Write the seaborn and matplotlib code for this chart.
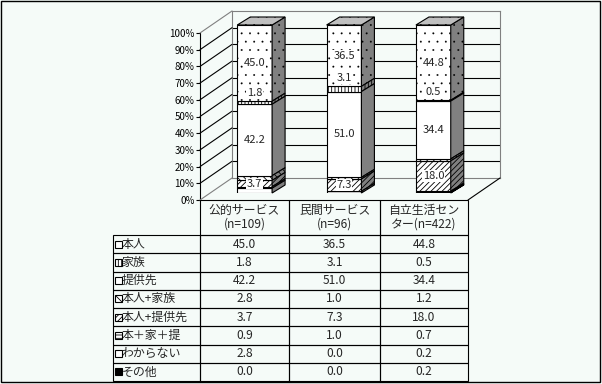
import matplotlib
matplotlib.use("Agg")
import matplotlib.pyplot as plt
from matplotlib.patches import Polygon, Rectangle
from matplotlib.lines import Line2D
from matplotlib.table import Table
from matplotlib.transforms import IdentityTransform
import seaborn as sns

# ---------------- data ----------------
categories = ["公的サービス", "民間サービス", "自立生活センター"]
col_headers = ["公的サービス\n(n=109)", "民間サービス\n(n=96)", "自立生活セン\nター(n=422)"]
series_names = ["本人", "家族", "提供先", "本人+家族", "本人+提供先", "本＋家＋提", "わからない", "その他"]

honnin        = [45.0, 36.5, 44.8]
kazoku        = [1.8, 3.1, 0.5]
teikyo        = [42.2, 51.0, 34.4]
honnin_kazoku = [2.8, 1.0, 1.2]
honnin_teikyo = [3.7, 7.3, 18.0]
hon_ka_tei    = [0.9, 1.0, 0.7]
wakaranai     = [2.8, 0.0, 0.2]
sonota        = [0.0, 0.0, 0.2]

yticks = [0, 10, 20, 30, 40, 50, 60, 70, 80, 90, 100]
ytick_labels = [f"{v}%" for v in yticks]

series_values = [honnin, kazoku, teikyo, honnin_kazoku, honnin_teikyo,
                 hon_ka_tei, wakaranai, sonota]

# ---------------- style ----------------
sns.set_style("white")
plt.rcParams["font.family"] = ["Noto Sans CJK JP", "DejaVu Sans"]
plt.rcParams["hatch.linewidth"] = 0.6
BG = "#F5FBF8"
face_colors = ["white", "white", "white", "white", "white", "white", "white", "black"]
side_colors = ["#808080", "#808080", "#808080", "#808080", "#808080", "#808080", "#808080", "black"]
hatches = ["..", "|||||", None, "\\\\\\\\\\", "//////", "-----", None, None]
hatch_lw = [0.15, 0.6, 0.6, 0.6, 0.6, 0.6, 0.6, 0.6]
labelled = {"本人": "center", "家族": "above", "提供先": "center", "本人+提供先": "center"}

W, H = 602, 384
fig = plt.figure(figsize=(W / 100, H / 100), dpi=100)
fig.patch.set_facecolor(BG)


def fx(px):
    return px / W


def fy(py):
    return 1 - py / H


def box(x0, y0, x1, y1):
    return [fx(x0), fy(y1), (x1 - x0) / W, (y1 - y0) / H]


def set_hlw(p, lw):
    if hasattr(p, "set_hatch_linewidth"):
        p.set_hatch_linewidth(lw)


# back wall, front plane, bar plane, table
ax_back = fig.add_axes(box(232, 11, 500, 178))
ax_front = fig.add_axes(box(200, 33, 468, 200))
ax = fig.add_axes(box(210, 25, 478, 193))
ax_tab = fig.add_axes(box(113, 200, 468, 381))
ax_back.set_zorder(0)
ax_front.set_zorder(1)
ax.set_zorder(5)
ax_tab.set_zorder(6)

# back wall
ax_back.set_facecolor("none")
ax_back.set_xlim(0, 1)
ax_back.set_ylim(0, 100)
ax_back.set_yticks(yticks[1:-1])
ax_back.set_xticks([])
ax_back.tick_params(left=False, labelleft=False)
ax_back.grid(axis="y", color="black", lw=0.8)
for s in ax_back.spines.values():
    s.set_color("#808080")
    s.set_linewidth(0.8)

# front plane axis
ax_front.set_facecolor("none")
ax_front.set_xlim(0, 1)
ax_front.set_ylim(0, 100)
ax_front.set_yticks(yticks)
ax_front.set_yticklabels(ytick_labels)
ax_front.set_xticks([])
ax_front.tick_params(axis="y", length=3, width=0.8, labelsize=7, pad=1, left=True, colors="black")
for k, s in ax_front.spines.items():
    s.set_visible(k == "left")
ax_front.spines["left"].set_color("black")
ax_front.spines["left"].set_linewidth(0.8)

# diagonals between front plane and back wall
for v in yticks:
    p0 = ax_front.transData.transform((0, v))
    p1 = ax_back.transData.transform((0, v))
    col = "#808080" if v in (0, 100) else "black"
    fig.add_artist(Line2D([p0[0], p1[0]], [p0[1], p1[1]], color=col, lw=0.8,
                          transform=IdentityTransform(), zorder=1.5))
p0 = ax_front.transData.transform((1, 0))
p1 = ax_back.transData.transform((1, 0))
fig.add_artist(Line2D([p0[0], p1[0]], [p0[1], p1[1]], color="black", lw=0.8,
                      transform=IdentityTransform(), zorder=1.5))

# ---------------- bars ----------------
n = len(categories)
totals = [sum(s[j] for s in series_values) for j in range(n)]
pct = [[s[j] / totals[j] * 100 for j in range(n)] for s in series_values]

bar_w = 0.39
px_x = (478 - 210) / 3.0
px_y = (193 - 25) / 100.0
ddx, ddy = 13 / px_x, 8 / px_y

bottoms = [0.0] * n
seg = {}
for i in reversed(range(len(series_names))):
    vals = pct[i]
    before = len(ax.patches)
    with plt.rc_context({"hatch.linewidth": hatch_lw[i]}):
        sns.barplot(x=categories, y=vals, bottom=list(bottoms), width=bar_w,
                    color=face_colors[i], saturation=1, edgecolor="black", linewidth=0.8,
                    hatch=hatches[i], errorbar=None, ax=ax)
    for p in ax.patches[before:]:
        set_hlw(p, hatch_lw[i])
    seg[i] = [(bottoms[j], bottoms[j] + vals[j]) for j in range(n)]
    bottoms = [bottoms[j] + vals[j] for j in range(n)]

for i in range(len(series_names)):
    for j in range(n):
        b, t = seg[i][j]
        if t - b <= 0:
            continue
        xr = j + bar_w / 2
        with plt.rc_context({"hatch.linewidth": hatch_lw[i]}):
            p = Polygon([(xr, b), (xr + ddx, b + ddy), (xr + ddx, t + ddy), (xr, t)],
                        closed=True, facecolor=side_colors[i], edgecolor="black",
                        lw=0.8, hatch=hatches[i], clip_on=False, zorder=3)
        set_hlw(p, hatch_lw[i])
        ax.add_patch(p)
# top faces
for j in range(n):
    t = bottoms[j]
    xl, xr = j - bar_w / 2, j + bar_w / 2
    with plt.rc_context({"hatch.linewidth": hatch_lw[0]}):
        p = Polygon([(xl, t), (xr, t), (xr + ddx, t + ddy), (xl + ddx, t + ddy)],
                    closed=True, facecolor="#C0C0C0", edgecolor="black", lw=0.8,
                    hatch=hatches[0], clip_on=False, zorder=3)
    set_hlw(p, hatch_lw[0])
    ax.add_patch(p)

# value labels
for i, name in enumerate(series_names):
    if name not in labelled:
        continue
    for j in range(n):
        b, t = seg[i][j]
        y = (b + t) / 2 if labelled[name] == "center" else t + 5
        ax.text(j, y, f"{series_values[i][j]:.1f}", ha="center", va="center", fontsize=8,
                zorder=6, bbox=dict(facecolor="white", edgecolor="none", pad=0.6))

ax.set_xlim(-0.5, 2.5)
ax.set_ylim(0, 100)
ax.axis("off")
ax.set_facecolor("none")

# ---------------- table ----------------
ax_tab.axis("off")
ax_tab.set_facecolor("none")
col_px = [87, 89, 91, 88]
head_px, row_px = 35, 18.25
tw, th = sum(col_px), head_px + row_px * len(series_names)
table = Table(ax_tab, bbox=[0, 0, 1, 1])
for c in range(4):
    w = col_px[c] / tw
    if c == 0:
        cell = table.add_cell(0, 0, w, head_px / th, text="", facecolor="none")
        cell.visible_edges = ""
    else:
        cell = table.add_cell(0, c, w, head_px / th, text=col_headers[c - 1], loc="center",
                              facecolor="none", edgecolor="black")
        cell.get_text().set_linespacing(1.05)
for r, name in enumerate(series_names):
    for c in range(4):
        w = col_px[c] / tw
        if c == 0:
            table.add_cell(r + 1, 0, w, row_px / th, text=name, loc="left",
                           facecolor="none", edgecolor="black")
        else:
            table.add_cell(r + 1, c, w, row_px / th, text=f"{series_values[r][c - 1]:.1f}",
                           loc="center", facecolor="none", edgecolor="black")
for cell in table.get_celld().values():
    cell.set_linewidth(0.8)
table.auto_set_font_size(False)
table.set_fontsize(8.6)
ax_tab.add_table(table)

# legend keys inside row labels
for r in range(len(series_names)):
    cy = 235 + row_px * (r + 0.5)
    fig.add_artist(Rectangle((fx(114.5), fy(cy + 3.5)), 7 / W, 7 / H, transform=fig.transFigure,
                             facecolor=face_colors[r], edgecolor="black", lw=0.8,
                             hatch=hatches[r] if r != 0 else None, zorder=8))

# outer frame
fig.add_artist(Rectangle((fx(1), fy(382)), 599 / W, 381 / H, transform=fig.transFigure,
                         fill=False, edgecolor="black", lw=1, zorder=10))

fig.savefig("out.png", dpi=100, facecolor=BG)
